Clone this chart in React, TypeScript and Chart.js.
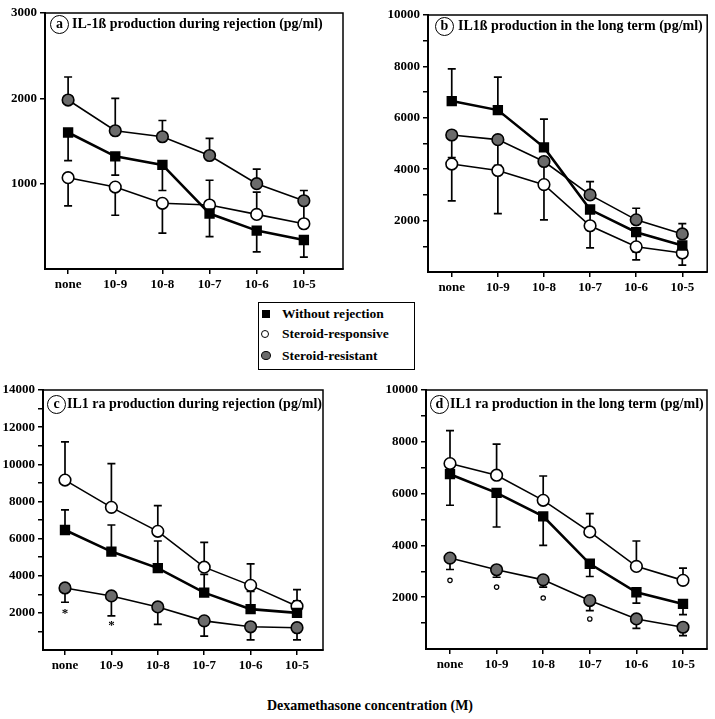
import React, { useEffect, useRef } from 'react';
import { Chart, registerables } from 'chart.js';
Chart.register(...registerables);

const categories = ['none', '10-9', '10-8', '10-7', '10-6', '10-5'];
const seriesNames = ['Without rejection', 'Steroid-responsive', 'Steroid-resistant'];

// Panel a: IL-1ß during rejection
const aWithout = [1600, 1320, 1220, 650, 450, 340];
const aWithoutErr = [1270, 1100, 920, 380, 200, 140];
const aResponsive = [1070, 960, 770, 750, 640, 530];
const aResponsiveErr = [740, 630, 420, 1040, 900, 800];
const aResistant = [1980, 1620, 1550, 1330, 1000, 800];
const aResistantErr = [2250, 2000, 1740, 1530, 1170, 920];

// Panel b: IL1ß long term
const bWithout = [6650, 6300, 4850, 2430, 1550, 1030];
const bWithoutErr = [7900, 7580, 5950, 1780, 780, 580];
const bResponsive = [4200, 3950, 3400, 1800, 980, 740];
const bResponsiveErr = [2770, 2270, 2030, 940, 470, 270];
const bResistant = [5330, 5150, 4300, 3000, 2030, 1480];
const bResistantErr = [4450, 4150, 3300, 3520, 2480, 1880];

// Panel c: IL1 ra during rejection
const cWithout = [6460, 5300, 4410, 3090, 2200, 2000];
const cWithoutErr = [7550, 6730, 5870, 4070, 3160, 2640];
const cResponsive = [9150, 7680, 6390, 4460, 3480, 2360];
const cResponsiveErr = [11210, 10040, 7770, 5800, 4640, 3250];
const cResistant = [3340, 2910, 2320, 1570, 1250, 1200];
const cResistantErr = [2570, 1840, 1380, 750, 540, 540];
const cStarX = [0, 1];
const cStarY = [2050, 1430];

// Panel d: IL1 ra long term
const dWithout = [6750, 6030, 5120, 3290, 2190, 1740];
const dWithoutErr = [5550, 4710, 4000, 2800, 1770, 1330];
const dResponsive = [7160, 6710, 5740, 4520, 3190, 2650];
const dResponsiveErr = [8430, 7910, 6680, 5230, 4170, 3120];
const dResistant = [3510, 3060, 2670, 1870, 1160, 840];
const dResistantErr = [3070, 2770, 2390, 1480, 800, 520];
const dMarkX = [0, 1, 2, 3];
const dMarkY = [2650, 2390, 1970, 1160];

const FONT = '"Liberation Serif", "Times New Roman", serif';
const GRAY = '#6b6b6b';

type PanelCfg = {
  letter: string;
  title: string;
  left: number; top: number; w: number; h: number;
  area: { l: number; t: number; r: number; b: number };
  yMax: number; minorStep: number; labelStep: number;
  xMin: number; xMax: number;
  data: number[][]; errs: number[][];
  marks?: { x: number[]; y: number[]; kind: 'star' | 'circle' };
  circle: { cx: number; cy: number; tx: number };
};

const panels: PanelCfg[] = [
  {
    letter: 'a', title: 'IL-1ß production during rejection (pg/ml)',
    left: 0, top: 0, w: 357, h: 300, area: { l: 45, t: 13, r: 343, b: 269 },
    yMax: 3000, minorStep: 1000, labelStep: 1000, xMin: -0.49, xMax: 5.83,
    data: [aWithout, aResponsive, aResistant], errs: [aWithoutErr, aResponsiveErr, aResistantErr],
    circle: { cx: 60, cy: 25, tx: 72 },
  },
  {
    letter: 'b', title: 'IL1ß production in the long term (pg/ml)',
    left: 357, top: 0, w: 358, h: 300, area: { l: 428, t: 15, r: 710, b: 272 },
    yMax: 10000, minorStep: 1000, labelStep: 2000, xMin: -0.515, xMax: 5.54,
    data: [bWithout, bResponsive, bResistant], errs: [bWithoutErr, bResponsiveErr, bResistantErr],
    circle: { cx: 445, cy: 27, tx: 458 },
  },
  {
    letter: 'c', title: 'IL1 ra production during rejection (pg/ml)',
    left: 0, top: 375, w: 357, h: 300, area: { l: 43, t: 390, r: 323, b: 650 },
    yMax: 14000, minorStep: 1000, labelStep: 2000, xMin: -0.474, xMax: 5.56,
    data: [cWithout, cResponsive, cResistant], errs: [cWithoutErr, cResponsiveErr, cResistantErr],
    marks: { x: cStarX, y: cStarY, kind: 'star' },
    circle: { cx: 57, cy: 405, tx: 67 },
  },
  {
    letter: 'd', title: 'IL1 ra production in the long term (pg/ml)',
    left: 357, top: 375, w: 358, h: 300, area: { l: 426, t: 390, r: 707, b: 649 },
    yMax: 10000, minorStep: 1000, labelStep: 2000, xMin: -0.515, xMax: 5.515,
    data: [dWithout, dResponsive, dResistant], errs: [dWithoutErr, dResponsiveErr, dResistantErr],
    marks: { x: dMarkX, y: dMarkY, kind: 'circle' },
    circle: { cx: 440, cy: 405, tx: 450 },
  },
];

const styles = [
  { bg: '#000', style: 'rect', radius: 6.2, width: 2.6 },
  { bg: '#fff', style: 'circle', radius: 5.8, width: 1.6 },
  { bg: GRAY, style: 'circle', radius: 5.8, width: 1.6 },
];

const errorBarPlugin = {
  id: 'errorBars',
  beforeDatasetsDraw(chart: any) {
    const ctx = chart.ctx;
    const xs = chart.scales.x;
    const ys = chart.scales.y;
    chart.data.datasets.forEach((ds: any) => {
      const ends = ds.errEnd as number[] | undefined;
      if (!ends) return;
      ctx.save();
      ctx.strokeStyle = '#000';
      ctx.lineWidth = 1.7;
      ds.data.forEach((p: any, i: number) => {
        const e = ends[i];
        if (e == null) return;
        const x = xs.getPixelForValue(p.x);
        const y0 = ys.getPixelForValue(p.y);
        const y1 = ys.getPixelForValue(e);
        ctx.beginPath();
        ctx.moveTo(x, y0);
        ctx.lineTo(x, y1);
        ctx.moveTo(x - 4, y1);
        ctx.lineTo(x + 4, y1);
        ctx.stroke();
      });
      ctx.restore();
    });
  },
};

const framePlugin = {
  id: 'frame',
  afterDraw(chart: any) {
    const { ctx, chartArea } = chart;
    ctx.save();
    ctx.strokeStyle = '#000';
    ctx.lineWidth = 1.5;
    ctx.strokeRect(chartArea.left, chartArea.top, chartArea.right - chartArea.left, chartArea.bottom - chartArea.top);
    const marks = chart.options.plugins.frame?.marks;
    if (marks) {
      const xs = chart.scales.x;
      const ys = chart.scales.y;
      marks.x.forEach((xv: number, i: number) => {
        const px = xs.getPixelForValue(xv);
        const py = ys.getPixelForValue(marks.y[i]);
        if (marks.kind === 'star') {
          ctx.fillStyle = '#000';
          ctx.font = `bold 13px ${FONT}`;
          ctx.textAlign = 'center';
          ctx.textBaseline = 'middle';
          ctx.fillText('*', px, py + 2);
        } else {
          ctx.lineWidth = 1.2;
          ctx.beginPath();
          ctx.arc(px, py, 2.2, 0, Math.PI * 2);
          ctx.stroke();
        }
      });
    }
    ctx.restore();
  },
};

function Panel({ cfg }: { cfg: PanelCfg }) {
  const ref = useRef<HTMLCanvasElement>(null);
  useEffect(() => {
    const yWidth = cfg.area.l - cfg.left;
    const padTop = cfg.area.t - cfg.top;
    const padRight = cfg.left + cfg.w - cfg.area.r;
    const xHeight = cfg.top + cfg.h - cfg.area.b;
    const datasets = cfg.data.map((vals, si) => ({
      label: seriesNames[si],
      data: vals.map((v, i) => ({ x: i, y: v })),
      errEnd: cfg.errs[si],
      borderColor: '#000',
      borderWidth: styles[si].width,
      backgroundColor: styles[si].bg,
      pointBackgroundColor: styles[si].bg,
      pointBorderColor: '#000',
      pointBorderWidth: 1.6,
      pointStyle: styles[si].style,
      pointRadius: styles[si].radius,
      tension: 0,
      fill: false,
    }));
    const tickFont = { family: FONT, size: 13, weight: 'bold' as const };
    const chart = new Chart(ref.current!, {
      type: 'line',
      data: { datasets: datasets as any },
      options: {
        animation: false,
        responsive: false,
        devicePixelRatio: 1,
        layout: { padding: { top: padTop, right: padRight, left: 0, bottom: 0 } },
        plugins: {
          legend: { display: false },
          tooltip: { enabled: false },
          frame: { marks: cfg.marks },
        } as any,
        scales: {
          x: {
            type: 'linear',
            min: cfg.xMin,
            max: cfg.xMax,
            afterBuildTicks: (axis: any) => {
              axis.ticks = categories.map((_, i) => ({ value: i }));
            },
            afterFit: (axis: any) => { axis.height = xHeight; },
            ticks: {
              callback: (v: any) => categories[v as number] ?? '',
              color: '#000',
              font: tickFont,
              padding: 3,
              maxRotation: 0,
              autoSkip: false,
            },
            grid: { drawOnChartArea: false, drawTicks: true, tickLength: 5, color: '#000', lineWidth: 1.5 },
            border: { color: '#000', width: 2 },
          },
          y: {
            type: 'linear',
            min: 0,
            max: cfg.yMax,
            afterBuildTicks: (axis: any) => {
              const t: any[] = [];
              for (let v = cfg.minorStep; v <= cfg.yMax; v += cfg.minorStep) t.push({ value: v });
              axis.ticks = t;
            },
            afterFit: (axis: any) => { axis.width = yWidth; },
            ticks: {
              callback: (v: any) => ((v as number) % cfg.labelStep === 0 ? String(v) : ''),
              color: '#000',
              font: tickFont,
              padding: 3,
              autoSkip: false,
            },
            grid: { drawOnChartArea: false, drawTicks: true, tickLength: 5, color: '#000', lineWidth: 1.5 },
            border: { color: '#000', width: 2 },
          },
        },
      } as any,
      plugins: [errorBarPlugin, framePlugin],
    });
    return () => chart.destroy();
  }, [cfg]);
  return (
    <canvas
      ref={ref}
      width={cfg.w}
      height={cfg.h}
      style={{ position: 'absolute', left: cfg.left, top: cfg.top, width: cfg.w, height: cfg.h }}
    />
  );
}

function PanelTitle({ cfg }: { cfg: PanelCfg }) {
  const d = 20;
  return (
    <>
      <div
        style={{
          position: 'absolute', left: cfg.circle.cx - d / 2, top: cfg.circle.cy - d / 2,
          width: d - 3, height: d - 3, border: '1.5px solid #000', borderRadius: '50%',
          display: 'flex', alignItems: 'center', justifyContent: 'center',
          font: `bold 14px ${FONT}`, lineHeight: '1', background: '#fff',
        }}
      >
        <span style={{ marginTop: -2 }}>{cfg.letter}</span>
      </div>
      <div
        style={{
          position: 'absolute', left: cfg.circle.tx, top: cfg.circle.cy - 9, height: 18,
          lineHeight: '18px', font: `bold 14px ${FONT}`, whiteSpace: 'nowrap', color: '#000',
        }}
      >
        {cfg.title}
      </div>
    </>
  );
}

function Legend() {
  const rowTops = [314, 334, 356];
  const text = { position: 'absolute' as const, left: 282, font: `bold 13.5px ${FONT}`, lineHeight: '16px', whiteSpace: 'nowrap' as const };
  return (
    <>
      <div style={{ position: 'absolute', left: 258, top: 302, width: 155, height: 66, border: '1.5px solid #000' }} />
      <div style={{ position: 'absolute', left: 262, top: rowTops[0] - 4, width: 8, height: 8, background: '#000' }} />
      <div style={{ position: 'absolute', left: 261, top: rowTops[1] - 4, width: 6, height: 6, border: '1.5px solid #000', borderRadius: '50%', background: '#fff' }} />
      <div style={{ position: 'absolute', left: 261, top: rowTops[2] - 5, width: 8, height: 7, border: '1.5px solid #000', borderRadius: '50%', background: GRAY }} />
      {seriesNames.map((n, i) => (
        <div key={n} style={{ ...text, top: rowTops[i] - 8 }}>{n}</div>
      ))}
    </>
  );
}

export default function App() {
  return (
    <div style={{ position: 'fixed', left: 0, top: 0, width: 715, height: 719, background: '#fff', overflow: 'hidden' }}>
      {panels.map((p) => <Panel key={p.letter} cfg={p} />)}
      {panels.map((p) => <PanelTitle key={'t' + p.letter} cfg={p} />)}
      <Legend />
      <div
        style={{
          position: 'absolute', left: 0, width: 740, top: 698, textAlign: 'center',
          font: `bold 14px ${FONT}`, lineHeight: '16px', color: '#000',
        }}
      >
        Dexamethasone concentration (M)
      </div>
    </div>
  );
}
